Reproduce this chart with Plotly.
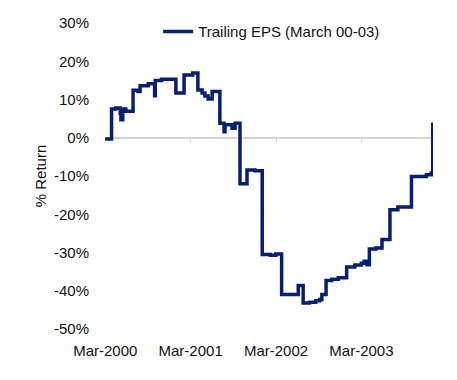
import plotly.graph_objects as go

# Step dates (when the value changes) and the return value (%) from that date on
step_dates = [
    "2000-03-01", "2000-03-28", "2000-04-15", "2000-05-04", "2000-05-07", "2000-05-15",
    "2000-05-28", "2000-06-28", "2000-07-19", "2000-07-28", "2000-09-01", "2000-09-28",
    "2000-10-01", "2000-10-28", "2000-12-28", "2001-02-01", "2001-03-10", "2001-04-01",
    "2001-04-19", "2001-05-01", "2001-05-15", "2001-06-01", "2001-07-04", "2001-07-22",
    "2001-07-26", "2001-08-25", "2001-09-07", "2001-09-28", "2001-10-28", "2001-12-01",
    "2002-01-01", "2002-02-05", "2002-02-28", "2002-03-25", "2002-06-04", "2002-06-25",
    "2002-07-22", "2002-08-18", "2002-09-04", "2002-09-13", "2002-10-01", "2002-10-25",
    "2002-11-22", "2002-12-28", "2003-02-01", "2003-03-01", "2003-03-13", "2003-03-25",
    "2003-04-04", "2003-05-01", "2003-05-28", "2003-07-01", "2003-08-04", "2003-10-01",
    "2003-12-04", "2003-12-25", "2003-12-31",
]
step_values = [
    -0.3, 7.5, 7.8, 6.4, 4.7, 7.5,
    6.9, 12.4, 12.1, 13.6, 14.1, 11.0,
    15.0, 15.3, 11.7, 16.4, 16.9, 12.5,
    11.7, 10.9, 10.1, 12.1, 3.8, 1.6,
    3.4, 2.5, 3.8, -12.0, -8.4, -8.6,
    -30.5, -30.7, -30.4, -41.0, -38.6, -43.2,
    -43.0, -42.6, -42.3, -41.0, -37.3, -37.0,
    -36.6, -33.8, -33.3, -32.8, -32.3, -33.2,
    -29.1, -28.8, -26.6, -18.8, -18.1, -10.1,
    -9.7, -9.2, 4.0,
]
series_name = "Trailing EPS (March 00-03)"
y_title = "% Return"
y_ticks = [30, 20, 10, 0, -10, -20, -30, -40, -50]
y_tick_labels = [f"{v}%" for v in y_ticks]
x_range = ["2000-02-29", "2004-01-01"]

NAVY = "#061f6e"
FONT = "Liberation Sans, Arial, sans-serif"
FS = 15
TXT = "#111111"

fig = go.Figure()
fig.add_trace(go.Scatter(
    x=step_dates, y=step_values, mode="lines", name=series_name,
    line=dict(color=NAVY, width=3.5, shape="hv"),
    xaxis="x", yaxis="y",
))
# invisible helper trace so the zero-line axis is drawn
fig.add_trace(go.Scatter(
    x=[step_dates[0]], y=[0], mode="lines", showlegend=False,
    line=dict(color="rgba(0,0,0,0)"), xaxis="x2", yaxis="y", hoverinfo="skip",
))

ymin, ymax = -50, 30
# page body has an 8px default margin, so the figure is sized to fill the rest
fig.update_layout(
    width=449, height=372,
    margin=dict(l=97, r=24, t=15, b=51, autoexpand=False),
    paper_bgcolor="white", plot_bgcolor="white",
    font=dict(family=FONT, size=FS, color=TXT),
    showlegend=True,
    legend=dict(x=0.162, y=0.971, xanchor="left", yanchor="middle",
                orientation="h", bgcolor="rgba(0,0,0,0)",
                font=dict(family=FONT, size=FS, color=TXT)),
    xaxis=dict(
        type="date", range=x_range, tick0="2000-03-01", dtick="M12",
        tickformat="%b-%Y", showgrid=False, zeroline=False, showline=False,
        ticks="outside", ticklen=8, tickcolor="rgba(0,0,0,0)", automargin=False,
        tickfont=dict(family=FONT, size=FS, color=TXT),
    ),
    xaxis2=dict(
        type="date", overlaying="x", matches="x", anchor="free",
        position=(0 - ymin) / (ymax - ymin),
        tick0="2000-03-01", dtick="M12", showticklabels=False,
        showline=True, linecolor="#d4d4d4", linewidth=2,
        ticks="outside", ticklen=4, tickcolor="#d4d4d4", tickwidth=1,
        showgrid=False, zeroline=False, layer="below traces", automargin=False,
    ),
    yaxis=dict(
        range=[ymin, ymax], tickvals=y_ticks, ticktext=y_tick_labels,
        showgrid=False, zeroline=False, showline=False,
        ticks="outside", ticklen=12, tickcolor="rgba(0,0,0,0)", automargin=False,
        title=dict(text=y_title, standoff=3,
                   font=dict(family=FONT, size=FS, color=TXT)),
        tickfont=dict(family=FONT, size=FS, color=TXT),
    ),
)

fig.write_html("out.html")
